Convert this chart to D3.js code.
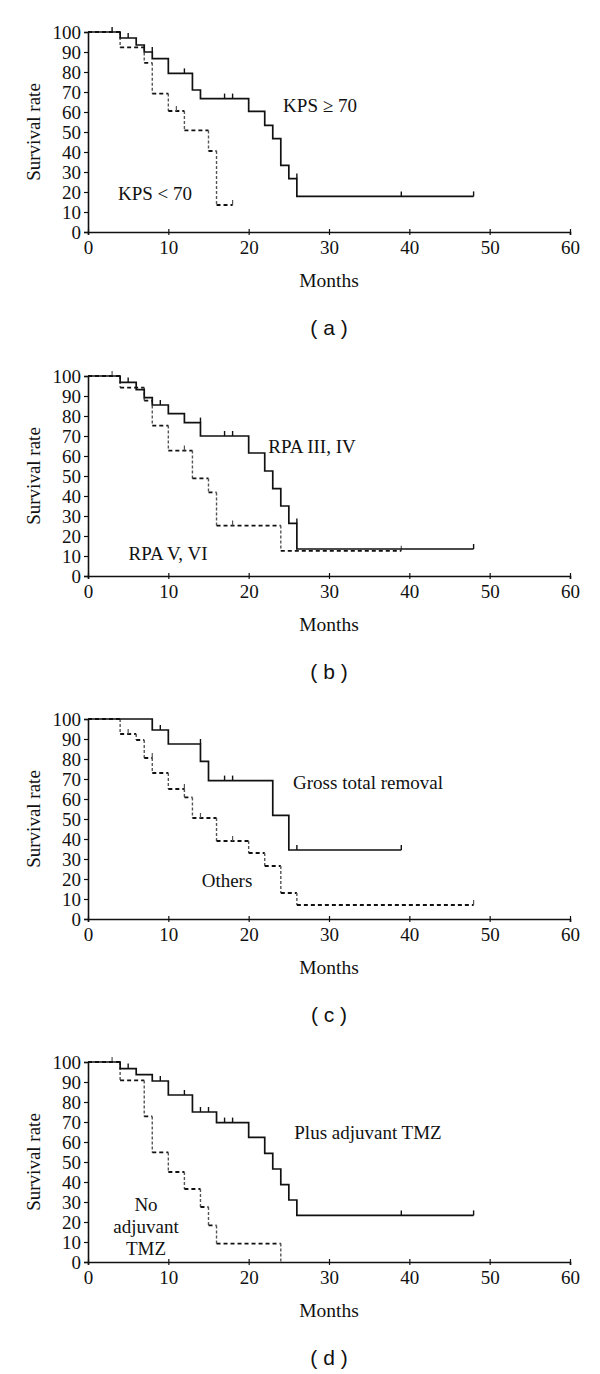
<!DOCTYPE html>
<html>
<head>
<meta charset="utf-8">
<script src="https://cdn.jsdelivr.net/npm/d3@7"></script>
<style>
  body { margin: 0; background: #fff; }
  svg text { font-family: "Liberation Serif", "Times New Roman", serif; fill: #111; }
</style>
</head>
<body>
<svg id="chart" width="600" height="1374"></svg>
<script>
// Kaplan-Meier curves, 4 panels: [month, survival %] step points + censor marks

var monthTicks = [0, 10, 20, 30, 40, 50, 60];
var rateTicks = [0, 10, 20, 30, 40, 50, 60, 70, 80, 90, 100];
var panelNames = ["( a )", "( b )", "( c )", "( d )"];

// (a) KPS
var kpsHighSteps = [[0,100],[4,97],[6,93.5],[7,90],[8,86.7],[10,79.3],[13,71],[14,66.7],[20,60.3],[22,53.3],[23,46.7],[24,33.3],[25,26.7],[26,17.8],[48,17.8]];
var kpsHighCensor = [[3,100],[5,97],[8,90],[12,79.3],[17,66.7],[18,66.7],[26,26.7],[39,17.8],[48,17.8]];
var kpsLowSteps = [[0,100],[4,92.3],[7,84.6],[8,69.2],[10,60.5],[12,50.8],[15,40.5],[16,13.5],[18,13.5]];
var kpsLowCensor = [[11,60.5],[18,13.5]];

// (b) RPA class
var rpaHighSteps = [[0,100],[4,96.8],[6,93.2],[7,89.2],[8,85.5],[10,81.2],[12,76.7],[14,70],[20,61.5],[22,52.5],[23,43.7],[24,35],[25,26.3],[26,13.5],[48,13.5]];
var rpaHighCensor = [[5,96.8],[9,85.5],[14,76.7],[17,70],[18,70],[26,26.3],[48,13.5]];
var rpaLowSteps = [[0,100],[4,94.2],[7,87.7],[8,75.2],[10,62.7],[13,48.8],[15,41.8],[16,25.2],[24,12.6],[39,12.6]];
var rpaLowCensor = [[3,100],[12,62.7],[18,25.2],[39,12.6]];

// (c) extent of resection
var gtrSteps = [[0,100],[8,94.5],[10,87.5],[14,78.8],[15,69.2],[23,51.8],[25,34.5],[39,34.5]];
var gtrCensor = [[9,94.5],[14,87.5],[17,69.2],[18,69.2],[26,34.5],[39,34.5]];
var othersSteps = [[0,100],[4,92.5],[6,89.5],[7,80.5],[8,73],[10,65],[12,60.8],[13,50.5],[16,39],[20,33],[22,26.5],[24,13],[26,7],[48,7]];
var othersCensor = [[5,92.5],[8,80.5],[12,65],[14,50.5],[18,39],[48,7]];

// (d) adjuvant TMZ
var tmzSteps = [[0,100],[4,96.7],[6,93.7],[8,90.5],[10,83.5],[13,75],[16,69.7],[20,62.3],[22,54.3],[23,46.5],[24,38.7],[25,31],[26,23.3],[48,23.3]];
var tmzCensor = [[5,96.7],[9,90.5],[12,83.5],[14,75],[15,75],[17,69.7],[18,69.7],[39,23.3],[48,23.3]];
var noTmzSteps = [[0,100],[4,90.8],[7,72.8],[8,54.8],[10,45],[12,36.5],[14,27.5],[15,18.3],[16,9.2],[24,9.2],[24,0]];
var noTmzCensor = [[3,100]];

var panels = [
  { top: 32,  solid: kpsHighSteps, solidC: kpsHighCensor, dash: kpsLowSteps, dashC: kpsLowCensor,
    labels: [{ t: ["KPS \u2265 70"], x: 320, y: 105 }, { t: ["KPS < 70"], x: 155, y: 193 }] },
  { top: 376, solid: rpaHighSteps, solidC: rpaHighCensor, dash: rpaLowSteps, dashC: rpaLowCensor,
    labels: [{ t: ["RPA III, IV"], x: 312, y: 446 }, { t: ["RPA V, VI"], x: 168, y: 553 }] },
  { top: 719, solid: gtrSteps, solidC: gtrCensor, dash: othersSteps, dashC: othersCensor,
    labels: [{ t: ["Gross total removal"], x: 368, y: 782 }, { t: ["Others"], x: 227, y: 880 }] },
  { top: 1062, solid: tmzSteps, solidC: tmzCensor, dash: noTmzSteps, dashC: noTmzCensor,
    labels: [{ t: ["Plus adjuvant TMZ"], x: 368, y: 1132 }, { t: ["No", "adjuvant", "TMZ"], x: 146, y: 1204 }] }
];

var svg = d3.select("#chart");
var PlotH = 200, X0 = 88, X1 = 570;

var x = d3.scaleLinear().domain([0, 60]).range([X0, X1]);

panels.forEach(function(p, i) {
  var y = d3.scaleLinear().domain([0, 100]).range([p.top + PlotH, p.top]);
  var g = svg.append("g");

  // axes
  var yAxis = g.append("g").attr("transform", "translate(" + X0 + ",0)")
    .call(d3.axisLeft(y).tickValues(rateTicks).tickSize(4).tickPadding(3));
  var xAxis = g.append("g").attr("transform", "translate(0," + (p.top + PlotH) + ")")
    .call(d3.axisBottom(x).tickValues(monthTicks).tickSize(3).tickPadding(6));
  [yAxis, xAxis].forEach(function(a) {
    a.select(".domain").attr("stroke", "#111").attr("stroke-width", 1.6);
    a.selectAll(".tick line").attr("stroke", "#111").attr("stroke-width", 1.2);
    a.selectAll(".tick text").style("font-family", "Liberation Serif").style("font-size", "19px").attr("fill", "#111");
  });
  xAxis.selectAll(".tick line").attr("y1", -3);

  g.append("text").attr("transform", "translate(40," + (p.top + PlotH / 2) + ") rotate(-90)")
    .attr("text-anchor", "middle").style("font-size", "19px").text("Survival rate");
  g.append("text").attr("x", x(30)).attr("y", p.top + PlotH + 55)
    .attr("text-anchor", "middle").style("font-size", "19.5px").text("Months");
  g.append("text").attr("x", x(30)).attr("y", p.top + PlotH + 103)
    .attr("text-anchor", "middle").style("font-family", "Liberation Sans").style("font-size", "21px")
    .text(panelNames[i]);

  // dashed group: horizontals black dashes, verticals grey
  var seg = d3.line().x(function(d) { return x(d[0]); }).y(function(d) { return y(d[1]); });
  for (var k = 0; k < p.dash.length - 1; k++) {
    var a = p.dash[k], b = p.dash[k + 1];
    if (b[0] > a[0])
      g.append("path").attr("d", seg([a, [b[0], a[1]]])).attr("fill", "none")
        .attr("stroke", "#111").attr("stroke-width", 1.8).attr("stroke-dasharray", "4,3");
    if (b[1] !== a[1])
      g.append("path").attr("d", seg([[b[0], a[1]], b])).attr("fill", "none")
        .attr("stroke", "#555").attr("stroke-width", 1.4).attr("stroke-dasharray", "3,2");
  }
  g.selectAll(".cd").data(p.dashC).enter().append("line")
    .attr("x1", function(d) { return x(d[0]); }).attr("x2", function(d) { return x(d[0]); })
    .attr("y1", function(d) { return y(d[1]); }).attr("y2", function(d) { return y(d[1]) - 5; })
    .attr("stroke", "#555").attr("stroke-width", 1.2);

  // solid group
  g.append("path").datum(p.solid)
    .attr("d", d3.line().curve(d3.curveStepAfter).x(function(d) { return x(d[0]); }).y(function(d) { return y(d[1]); }))
    .attr("fill", "none").attr("stroke", "#111").attr("stroke-width", 1.7);
  g.selectAll(".cs").data(p.solidC).enter().append("line")
    .attr("x1", function(d) { return x(d[0]); }).attr("x2", function(d) { return x(d[0]); })
    .attr("y1", function(d) { return y(d[1]); }).attr("y2", function(d) { return y(d[1]) - 5; })
    .attr("stroke", "#111").attr("stroke-width", 1.4);

  // curve labels
  p.labels.forEach(function(l) {
    l.t.forEach(function(line, j) {
      g.append("text").attr("x", l.x).attr("y", l.y + j * 22).attr("dy", "0.35em")
        .attr("text-anchor", "middle").style("font-size", "19px").text(line);
    });
  });
});
</script>
</body>
</html>
